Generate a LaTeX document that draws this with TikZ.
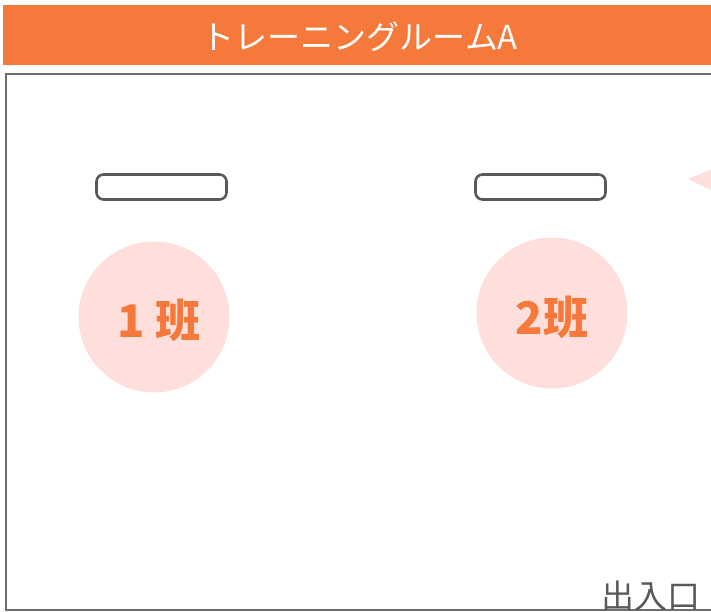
\documentclass[tikz,border=0pt]{standalone}
\usepackage{fontspec}
\newfontfamily\cjk{Noto Sans CJK JP}
\definecolor{banner}{HTML}{F4793B}
\definecolor{pinkfill}{HTML}{FFDFDC}
\definecolor{grayline}{HTML}{595959}
\definecolor{roomline}{HTML}{6E6E6E}
\begin{document}
\begin{tikzpicture}[x=1pt,y=-1pt,
  tablebox/.style={draw=grayline,line width=2.6pt,rounded corners=7pt,fill=white},
  group/.style={circle,fill=pinkfill,minimum size=151pt,inner sep=0pt,text=banner,font=\cjk\bfseries\fontsize{45}{45}\selectfont},
]
\useasboundingbox (0,0) rectangle (711,612);
\fill[banner] (3,5) rectangle (711,65);
\node[text=white,font=\cjk\fontsize{33}{33}\selectfont] (title) at (360,37) {トレーニングルームA};
\draw[roomline,line width=1.4pt] (720,74) -- (6,74) -- (6,610) -- (720,610);
\node[tablebox,minimum width=130pt,minimum height=25pt,inner sep=0pt] (t1) at (161.5,187) {};
\node[tablebox,minimum width=130pt,minimum height=25pt,inner sep=0pt] (t2) at (540.5,187) {};
\node[group] (g1) at (154,317) {};
\node[text=banner,font=\cjk\bfseries\fontsize{45}{45}\selectfont] (l1) at (159,320) {1 班};
\node[group] (g2) at (552,313) {};
\node[text=banner,font=\cjk\bfseries\fontsize{45}{45}\selectfont] (l2) at (552,317) {2班};
\fill[pinkfill] (688,179) -- (715,168) -- (715,192) -- cycle;
\node[text=grayline,font=\cjk\fontsize{33}{33}\selectfont,anchor=south] (door) at (651,615) {出入口};
\end{tikzpicture}
\end{document}
